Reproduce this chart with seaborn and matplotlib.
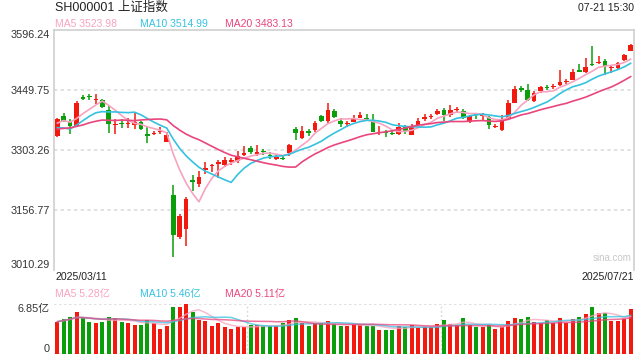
import numpy as np
import pandas as pd
import matplotlib
matplotlib.use("Agg")
import matplotlib.pyplot as plt
import matplotlib.transforms as mtransforms
import seaborn as sns

# ---------------- data ----------------
title = "SH000001 上证指数"
timestamp = "07-21 15:30"
start_label = "2025/03/11"
end_label = "2025/07/21"
watermark = "sina.com"

opens = [3335.9, 3386.3, 3370.0, 3360.3, 3431.1, 3435.1, 3423.8, 3424.6, 3401.0, 3364.3,
         3369.2, 3365.2, 3362.7, 3370.9, 3342.4, 3340.7, 3345.6, 3321.2, 3193.4, 3091.6,
         3110.4, 3228.4, 3220.2, 3252.8, 3262.5, 3268.2, 3265.0, 3272.3, 3274.7, 3290.2,
         3307.3, 3294.3, 3300.8, 3291.0, 3282.1, 3283.7, 3295.2, 3354.6, 3331.0, 3349.7,
         3352.1, 3386.3, 3373.3, 3398.5, 3374.1, 3365.2, 3371.7, 3381.4, 3381.4, 3372.5,
         3344.8, 3347.3, 3344.0, 3340.8, 3358.6, 3339.9, 3362.7, 3379.8, 3382.2, 3389.6,
         3401.0, 3387.1, 3400.1, 3396.9, 3370.0, 3390.4, 3385.5, 3382.2, 3357.8, 3350.5,
         3380.6, 3418.0, 3453.0, 3449.7, 3422.9, 3447.3, 3456.2, 3456.2, 3460.3, 3467.6,
         3474.1, 3497.7, 3492.0, 3511.6, 3514.0, 3518.9, 3501.8, 3502.6, 3521.3, 3544.1]
closes = [3378.2, 3374.1, 3360.3, 3418.1, 3426.2, 3431.1, 3426.2, 3408.3, 3365.2, 3366.8,
          3366.0, 3369.2, 3370.9, 3353.0, 3335.9, 3344.8, 3348.9, 3339.9, 3095.8, 3142.1,
          3183.6, 3223.5, 3237.3, 3258.5, 3266.6, 3273.1, 3278.8, 3278.0, 3288.6, 3295.9,
          3296.7, 3296.7, 3296.7, 3288.6, 3284.5, 3279.6, 3315.5, 3343.2, 3348.9, 3343.2,
          3367.6, 3374.1, 3401.0, 3382.3, 3366.8, 3367.6, 3379.0, 3387.1, 3379.0, 3347.3,
          3347.3, 3343.2, 3341.6, 3358.7, 3349.7, 3360.3, 3373.3, 3382.2, 3385.5, 3398.5,
          3387.1, 3401.0, 3403.4, 3380.6, 3384.7, 3387.9, 3388.7, 3362.7, 3361.1, 3378.2,
          3418.0, 3452.2, 3449.7, 3423.7, 3441.6, 3455.4, 3453.8, 3459.5, 3468.4, 3470.1,
          3493.7, 3493.7, 3505.9, 3509.1, 3518.1, 3508.3, 3504.2, 3515.6, 3533.5, 3558.8]
highs = [3380.6, 3392.8, 3377.4, 3422.1, 3436.8, 3438.4, 3439.2, 3427.8, 3409.1, 3377.4,
         3379.0, 3380.6, 3393.6, 3373.3, 3360.3, 3348.1, 3358.6, 3345.6, 3217.9, 3146.2,
         3187.7, 3240.6, 3250.3, 3273.9, 3269.1, 3277.2, 3285.3, 3282.9, 3299.2, 3311.4,
         3313.0, 3313.8, 3305.7, 3296.7, 3291.0, 3288.6, 3318.0, 3357.8, 3360.3, 3353.8,
         3372.5, 3388.8, 3417.2, 3403.4, 3380.6, 3373.3, 3387.9, 3395.3, 3390.4, 3389.6,
         3361.9, 3352.1, 3350.5, 3368.4, 3364.3, 3366.0, 3379.8, 3391.2, 3391.2, 3403.4,
         3405.0, 3413.2, 3408.3, 3401.8, 3387.1, 3393.6, 3393.6, 3384.7, 3366.0, 3388.7,
         3423.7, 3458.7, 3459.5, 3463.6, 3445.6, 3459.5, 3461.1, 3464.4, 3496.9, 3475.8,
         3500.2, 3513.2, 3527.0, 3555.5, 3532.7, 3524.6, 3510.8, 3518.1, 3536.8, 3562.0]
lows = [3335.0, 3370.9, 3341.6, 3359.5, 3423.8, 3423.8, 3415.6, 3405.0, 3344.0, 3341.6,
        3356.2, 3356.2, 3353.0, 3351.3, 3318.8, 3339.1, 3342.4, 3321.0, 3041.3, 3085.1,
        3069.7, 3203.9, 3211.3, 3244.6, 3247.9, 3234.1, 3260.1, 3266.6, 3270.7, 3288.6,
        3293.5, 3287.0, 3291.0, 3280.4, 3277.2, 3277.2, 3288.7, 3326.1, 3328.5, 3335.9,
        3345.6, 3370.0, 3369.2, 3379.8, 3357.8, 3357.8, 3370.0, 3379.8, 3374.1, 3346.4,
        3338.3, 3333.4, 3338.3, 3338.3, 3341.5, 3338.3, 3361.1, 3372.5, 3379.0, 3387.9,
        3372.5, 3383.9, 3392.0, 3379.0, 3369.5, 3378.2, 3372.5, 3354.6, 3356.2, 3348.1,
        3379.0, 3416.4, 3444.8, 3422.0, 3420.4, 3441.6, 3449.7, 3451.3, 3459.5, 3464.4,
        3473.5, 3492.0, 3491.2, 3508.3, 3513.2, 3485.5, 3489.6, 3501.0, 3519.7, 3543.5]
# volume, in 亿
volumes = [4.43, 4.75, 5.07, 5.80, 4.93, 4.43, 4.29, 4.43, 5.07, 4.89,
           4.43, 4.20, 4.02, 4.02, 4.66, 4.20, 3.47, 3.88, 6.48, 6.48,
           6.85, 5.80, 4.66, 4.57, 3.84, 4.20, 3.70, 3.47, 3.70, 3.70,
           3.93, 3.93, 3.84, 3.84, 3.84, 4.29, 4.66, 4.93, 4.20, 3.88,
           4.20, 4.20, 4.52, 4.07, 3.84, 3.84, 4.11, 3.93, 3.84, 3.84,
           3.33, 3.33, 3.33, 3.84, 3.74, 3.93, 3.61, 3.74, 3.65, 4.11,
           4.66, 4.11, 3.97, 4.93, 3.93, 3.70, 3.70, 3.97, 3.43, 3.70,
           4.52, 4.93, 4.80, 5.07, 4.38, 4.20, 4.66, 4.29, 4.93, 4.29,
           4.80, 5.07, 5.48, 6.44, 5.57, 5.62, 4.52, 4.52, 4.84, 6.17]
# closes of the 19 sessions before 2025/03/11 (only used to seed the moving averages)
warmup_closes = [3346.4, 3332.5, 3346.7, 3355.8, 3324.5, 3351.5, 3350.8, 3379.1, 3373.0, 3346.0,
                 3380.2, 3388.1, 3320.9, 3316.9, 3324.2, 3342.0, 3381.1, 3372.6, 3366.2]

price_ticks = [3010.29, 3156.77, 3303.26, 3449.75, 3596.24]
price_tick_labels = ["3010.29", "3156.77", "3303.26", "3449.75", "3596.24"]
vol_ticks = [0, 6.85]
vol_tick_labels = ["0", "6.85亿"]
ma_windows = [5, 10, 20]
ma_price_labels = ["MA5 3523.98", "MA10 3514.99", "MA20 3483.13"]
ma_vol_labels = ["MA5 5.28亿", "MA10 5.46亿", "MA20 5.11亿"]

# ---------------- style ----------------
sns.set_theme(style="white")
plt.rcParams['font.family'] = ['Liberation Sans', 'Noto Sans CJK SC', 'DejaVu Sans']

RED = '#f2190f'
GREEN = '#0a9f0a'
MA_COLORS = ['#f7a3c0', '#35c2e0', '#e9467e']
GRID = '#dcdcdc'
FRAME = '#cfcfcf'
TXT = '#222222'

n = len(closes)
df = pd.DataFrame(dict(x=np.arange(n), open=opens, close=closes, high=highs,
                       low=lows, vol=volumes))
allc = pd.Series(warmup_closes + closes)
for w in ma_windows:
    df[f'ma{w}'] = allc.rolling(w, min_periods=1).mean().iloc[len(warmup_closes):].to_numpy()
    df[f'vma{w}'] = df['vol'].rolling(w, min_periods=1).mean()
up = df['close'] >= df['open']
colors = np.where(up, RED, GREEN)

W, H = 640, 360
fig = plt.figure(figsize=(W / 100, H / 100), dpi=100)


def box(l, t, r, b):
    return [l / W, 1 - b / H, (r - l) / W, (b - t) / H]


ax = fig.add_axes(box(54, 29.5, 634, 270))
axv = fig.add_axes(box(54, 304, 634, 354))

# ---------------- price pane ----------------
ymin, ymax = price_ticks[0], price_ticks[-1]
ax.set_xlim(-0.5, n - 0.5)
ax.set_ylim(ymin, ymax)
for t in price_ticks[1:-1]:
    ax.axhline(t, color=GRID, lw=1.2, ls=(0, (2, 2)), zorder=0)

ax.vlines(df['x'], df['low'], df['high'], colors=colors, lw=1.1, zorder=2)
body_lo = np.minimum(df['open'], df['close'])
body_h = np.abs(df['close'] - df['open'])
min_h = 3.2
adj_lo = np.where(body_h < min_h, (df['open'] + df['close']) / 2 - min_h / 2, body_lo)
adj_h = np.maximum(body_h, min_h)
ax.bar(df['x'], adj_h, bottom=adj_lo, width=0.74, color=colors, linewidth=0, zorder=3)

for w, c in zip(ma_windows, MA_COLORS):
    sns.lineplot(data=df, x='x', y=f'ma{w}', ax=ax, color=c, lw=1.2, zorder=4)

ax.set_xlabel('')
ax.set_ylabel('')
ax.set_xticks([])
ax.set_yticks(price_ticks, price_tick_labels)
ax.tick_params(axis='y', length=0, pad=3, labelsize=7.8, labelcolor='#333333')
labs = ax.get_yticklabels()
labs[0].set_va('bottom')
labs[-1].set_va('top')
for s in ax.spines.values():
    s.set_color(FRAME)
    s.set_linewidth(1.2)
ax.spines['bottom'].set_visible(False)
ax.text(0.995, 0.03, watermark, transform=ax.transAxes, ha='right', va='bottom',
        fontsize=7, color='#c8c8c8')

# ---------------- volume pane ----------------
axv.set_xlim(-0.5, n - 0.5)
axv.set_ylim(vol_ticks[0], vol_ticks[-1])
axv.bar(df['x'], df['vol'], width=0.62, color=colors, linewidth=0, zorder=2)
for w, c in zip(ma_windows, MA_COLORS):
    sns.lineplot(data=df, x='x', y=f'vma{w}', ax=axv, color=c, lw=1.1, alpha=0.75, zorder=3)
axv.axhline(vol_ticks[-1], color=GRID, lw=1.2, ls=(0, (1.5, 1.5)), zorder=0)
axv.axhline(vol_ticks[0], color=GRID, lw=1.2, ls=(0, (1.5, 1.5)), zorder=0)
for f in (1 / 3, 2 / 3):
    axv.plot([f, f], [0, 1], transform=axv.transAxes, color=GRID, lw=1.0,
             ls=(0, (1.5, 1.5)), zorder=0)
axv.set_xlabel('')
axv.set_ylabel('')
axv.set_xticks([])
axv.set_yticks(vol_ticks, vol_tick_labels)
axv.tick_params(axis='y', length=0, pad=3, labelsize=7.8, labelcolor='#333333')
vl = axv.get_yticklabels()
vl[0].set_va('bottom')
vl[-1].set_va('top')
for k, s in axv.spines.items():
    s.set_visible(False)

# ---------------- texts ----------------
fig.text(55 / W, 1 - 8 / H, title, ha='left', va='center', fontsize=9, color=TXT)
fig.text(634 / W, 1 - 8 / H, timestamp, ha='right', va='center', fontsize=7.6, color=TXT)
for xp, lab, c in zip([55, 140, 225], ma_price_labels, MA_COLORS):
    fig.text(xp / W, 1 - 24 / H, lab, ha='left', va='center', fontsize=7.5, color=c)
fig.text(55 / W, 1 - 277 / H, start_label, ha='left', va='center', fontsize=7.6, color=TXT)
fig.text(634 / W, 1 - 277 / H, end_label, ha='right', va='center', fontsize=7.6, color=TXT)
for xp, lab, c in zip([55, 140, 225], ma_vol_labels, MA_COLORS):
    fig.text(xp / W, 1 - 294 / H, lab, ha='left', va='center', fontsize=7.5, color=c)

fig.savefig('out.png', dpi=100, facecolor='white')
